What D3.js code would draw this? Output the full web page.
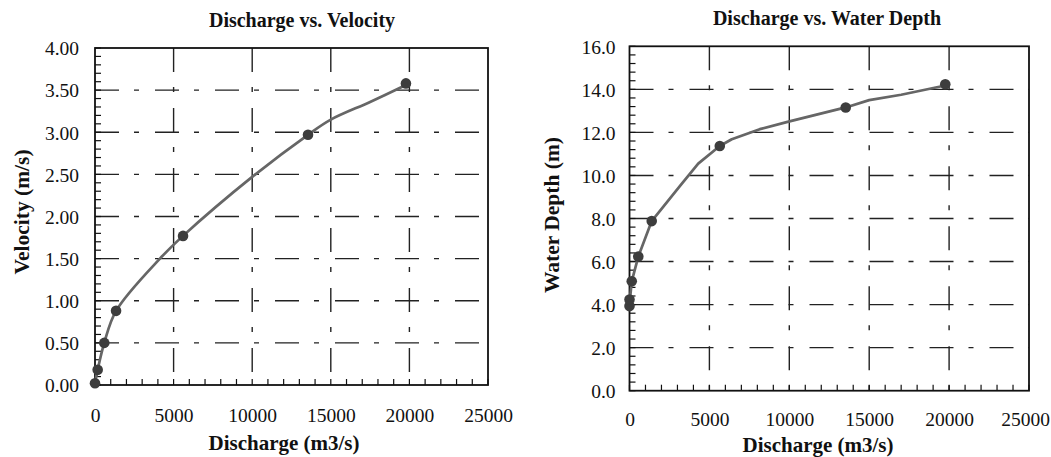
<!DOCTYPE html>
<html><head><meta charset="utf-8">
<script src="https://cdn.jsdelivr.net/npm/d3@7"></script>
<style>
html,body{margin:0;padding:0;background:#fff;}
svg text{font-family:"Liberation Serif","Times New Roman",serif;fill:#111;}
</style></head>
<body><svg id="c" width="1051" height="457"></svg>
<script>
// ---- Data ----
const xTicks = [0, 5000, 10000, 15000, 20000, 25000];
const velTicks = [0, 0.5, 1, 1.5, 2, 2.5, 3, 3.5, 4];
const depthTicks = [0, 2, 4, 6, 8, 10, 12, 14, 16];

// Velocity chart markers
const dischargeV = [0, 170, 590, 1340, 5600, 13550, 19780];
const velocity   = [0.02, 0.18, 0.50, 0.88, 1.77, 2.97, 3.58];
// Velocity fitted line as drawn
const lineQV = [0, 170, 590, 1340, 4130, 5600, 10000, 13550, 15000, 17500, 19780];
const lineV  = [0.02, 0.18, 0.50, 0.88, 1.50, 1.77, 2.47, 2.97, 3.15, 3.36, 3.56];

// Water depth chart markers
const dischargeD = [0, 0, 140, 550, 1390, 5650, 13530, 19760];
const depth      = [3.93, 4.24, 5.08, 6.23, 7.88, 11.37, 13.16, 14.24];
// Water depth fitted line as drawn
const lineQD = [0, 30, 140, 550, 1390, 3150, 4300, 5650, 6400, 8150, 9950, 13530, 15000, 17000, 19760];
const lineD  = [3.93, 4.24, 5.08, 6.23, 7.88, 9.50, 10.55, 11.37, 11.68, 12.15, 12.50, 13.16, 13.50, 13.75, 14.18];

const svg = d3.select("#c");
const SERIF = '"Liberation Serif","Times New Roman",serif';

function panel(cfg){
  const g = svg.append("g");
  const x = d3.scaleLinear().domain([0,25000]).range([cfg.x0, cfg.x1]);
  const y = d3.scaleLinear().domain([0,cfg.ymax]).range([cfg.y1, cfg.y0]);

  // grid lines (dash-dot)
  const dash = "24,15,5,16";
  g.selectAll(".hg").data(cfg.yTicks.filter(v=>v>0 && v<cfg.ymax)).join("line")
    .attr("x1", cfg.x0).attr("x2", cfg.x1)
    .attr("y1", d=>y(d)).attr("y2", d=>y(d))
    .attr("stroke","#222").attr("stroke-width",1.4).attr("stroke-dasharray",dash);
  g.selectAll(".vg").data(xTicks.filter(v=>v>0 && v<25000)).join("line")
    .attr("x1", d=>x(d)).attr("x2", d=>x(d))
    .attr("y1", cfg.y0).attr("y2", cfg.y1)
    .attr("stroke","#222").attr("stroke-width",1.4).attr("stroke-dasharray",dash);

  // minor ticks (inside)
  const xm = d3.range(0, 25001, 1000);
  g.selectAll(".xm").data(xm).join("line")
    .attr("x1", d=>x(d)).attr("x2", d=>x(d))
    .attr("y1", cfg.y1).attr("y2", cfg.y1-6)
    .attr("stroke","#111").attr("stroke-width",1.2);
  const ym = d3.range(0, Math.round(cfg.ymax/cfg.yMinor)+1).map(i=>i*cfg.yMinor);
  g.selectAll(".ym").data(ym).join("line")
    .attr("x1", cfg.x0).attr("x2", cfg.x0+6)
    .attr("y1", d=>y(d)).attr("y2", d=>y(d))
    .attr("stroke","#111").attr("stroke-width",1.2);

  // frame
  g.append("rect").attr("x",cfg.x0).attr("y",cfg.y0)
    .attr("width",cfg.x1-cfg.x0).attr("height",cfg.y1-cfg.y0)
    .attr("fill","none").attr("stroke","#111").attr("stroke-width",1.8);

  // tick labels via d3 axes (no lines)
  const ax = g.append("g").attr("transform",`translate(0,${cfg.y1})`)
    .call(d3.axisBottom(x).tickValues(xTicks).tickSize(0).tickPadding(0).tickFormat(d3.format("d")));
  ax.attr("font-family", SERIF).attr("font-size", 19.5);
  ax.select(".domain").remove();
  ax.selectAll("text").attr("dy",null).attr("y",cfg.xLabDy).attr("fill","#111")
    .attr("x", d => (d===25000 ? cfg.lastShift : 0));
  const ay = g.append("g").attr("transform",`translate(${cfg.x0},0)`)
    .call(d3.axisLeft(y).tickValues(cfg.yTicks).tickSize(0).tickPadding(0).tickFormat(d3.format(cfg.yFmt)));
  ay.attr("font-family", SERIF).attr("font-size", 19.5);
  ay.select(".domain").remove();
  ay.selectAll("text").attr("x",-cfg.yLabDx).attr("dy","0.35em").attr("fill","#111");

  // fitted line
  const pts = cfg.lq.map((q,i)=>[q, cfg.lv[i]]);
  g.append("path").datum(pts)
    .attr("d", d3.line().x(d=>x(d[0])).y(d=>y(d[1])).curve(cfg.curve))
    .attr("fill","none").attr("stroke","#666").attr("stroke-width",2.7)
    .attr("stroke-linejoin","round");

  // markers
  const mk = cfg.mq.map((q,i)=>[q, cfg.mv[i]]);
  g.selectAll(".mk").data(mk).join("circle")
    .attr("cx", d=>x(d[0])).attr("cy", d=>y(d[1])).attr("r",5.3)
    .attr("fill","#3d3d3d");

  // titles
  g.append("text").attr("x",cfg.tx).attr("y",cfg.ty).attr("text-anchor","middle")
    .style("font-weight","bold").style("font-size","20px").text(cfg.title);
  g.append("text").attr("x",cfg.xtx).attr("y",cfg.xty).attr("text-anchor","middle")
    .style("font-weight","bold").style("font-size","21px").text("Discharge (m3/s)");
  g.append("text").attr("transform",`translate(${cfg.ytx},${cfg.yty}) rotate(-90)`)
    .attr("text-anchor","middle").attr("dy","0.35em")
    .style("font-weight","bold").style("font-size","21.5px").text(cfg.ytitle);
}

panel({x0:95, x1:488, y0:48, y1:385, ymax:4, yTicks:velTicks, yMinor:0.1, yFmt:".2f",
  lq:lineQV, lv:lineV, mq:dischargeV, mv:velocity, curve:d3.curveCatmullRom.alpha(0.5),
  title:"Discharge vs. Velocity", tx:302, ty:27, xtx:284, xty:450, ytx:21, yty:212,
  ytitle:"Velocity (m/s)", xLabDy:37, yLabDx:16, lastShift:0});

panel({x0:629.5, x1:1029, y0:46.3, y1:390.7, ymax:16, yTicks:depthTicks, yMinor:0.4, yFmt:".1f",
  lq:lineQD, lv:lineD, mq:dischargeD, mv:depth, curve:d3.curveLinear,
  title:"Discharge vs. Water Depth", tx:827, ty:25, xtx:818, xty:452, ytx:551, yty:215,
  ytitle:"Water Depth (m)", xLabDy:35, yLabDx:14, lastShift:-4});
</script></body></html>
